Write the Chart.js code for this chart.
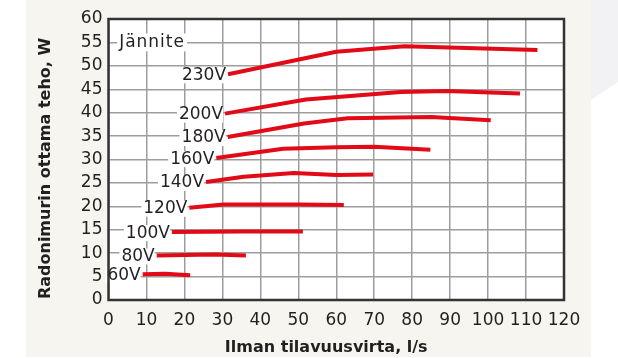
<!DOCTYPE html>
<html>
<head>
<meta charset="utf-8">
<script src="https://cdn.jsdelivr.net/npm/chart.js@4/dist/chart.umd.min.js"></script>
<style>
  html, body { margin: 0; padding: 0; background: #ffffff; }
  #wrap { position: relative; width: 618px; height: 358px; overflow: hidden; }
  #cream { position: absolute; left: 26px; top: 0; width: 565px; height: 357px; background: #f6f5ef; }
  #corner { position: absolute; left: 591px; top: 0; width: 27px; height: 100px; background: #f2f2f4;
            clip-path: polygon(0 0, 100% 0, 100% 82%, 0 100%); }
  #chart { position: absolute; left: 0; top: 0; }
</style>
</head>
<body>
<div id="wrap">
  <div id="cream"></div>
  <div id="corner"></div>
  <canvas id="chart" width="618" height="358"></canvas>
</div>
<script>
// Jännite (voltage) curves: [ilmavirta l/s, teho W]
const voltages = ["60V", "80V", "100V", "120V", "140V", "160V", "180V", "200V", "230V"];
const v60  = [[9, 5.5], [15, 5.6], [21.5, 5.3]];
const v80  = [[12.7, 9.5], [28, 9.7], [36.2, 9.5]];
const v100 = [[16.7, 14.5], [35, 14.6], [51.2, 14.6]];
const v120 = [[21.3, 19.7], [30.3, 20.4], [50, 20.4], [62, 20.3]];
const v140 = [[25.7, 25.2], [35.6, 26.3], [48.8, 27.1], [60, 26.7], [69.7, 26.8]];
const v160 = [[28.4, 30.3], [46, 32.3], [60, 32.6], [70, 32.7], [84.8, 32.1]];
const v180 = [[31.4, 34.8], [51.5, 37.7], [63, 38.8], [85, 39.1], [100.7, 38.4]];
const v200 = [[30.7, 39.8], [52, 42.8], [77, 44.4], [89, 44.6], [108.4, 44.1]];
const v230 = [[31.5, 48.2], [60, 53], [78, 54.2], [113, 53.4]];
const seriesValues = [v60, v80, v100, v120, v140, v160, v180, v200, v230];

const xTicks = [0, 10, 20, 30, 40, 50, 60, 70, 80, 90, 100, 110, 120];
const yTicks = [0, 5, 10, 15, 20, 25, 30, 35, 40, 45, 50, 55, 60];
const legendTitle = "Jännite";
const xTitle = "Ilman tilavuusvirta, l/s";
const yTitle = "Radonimurin ottama teho, W";

const red = "#e20a17";
const ink = "#231f20";
const fontFamily = "'DejaVu Sans', sans-serif";

const datasets = seriesValues.map((pts, i) => ({
    label: voltages[i],
    data: pts.map(p => ({ x: p[0], y: p[1] })),
    showLine: true,
    borderColor: red,
    backgroundColor: red,
    borderWidth: 4,
    pointRadius: 0,
    tension: 0,
    borderCapStyle: "butt",
    borderJoinStyle: "round"
}));

// voltage labels + "Jännite" with white boxes, the dark frame and axis titles
const labelPlugin = {
    id: "labels",
    afterDatasetsDraw(chart) {
        const ctx = chart.ctx;
        const xs = chart.scales.x, ys = chart.scales.y;
        const a = chart.chartArea;
        ctx.save();
        ctx.font = "17px " + fontFamily;
        ctx.textBaseline = "middle";
        chart.data.datasets.forEach(ds => {
            const p = ds.data[0];
            const px = xs.getPixelForValue(p.x) - 2;
            const py = ys.getPixelForValue(p.y) + 1;
            const w = ctx.measureText(ds.label).width;
            ctx.fillStyle = "#ffffff";
            ctx.fillRect(px - w - 2, py - 8, w + 2, 16);
            ctx.fillStyle = ink;
            ctx.textAlign = "right";
            ctx.fillText(ds.label, px, py);
        });

        ctx.letterSpacing = "1px";
        const jx = xs.getPixelForValue(2.8);
        const jy = ys.getPixelForValue(55);
        const jw = ctx.measureText(legendTitle).width;
        ctx.fillStyle = "#ffffff";
        ctx.fillRect(jx - 2, jy - 9, jw + 4, 18);
        ctx.fillStyle = ink;
        ctx.textAlign = "left";
        ctx.fillText(legendTitle, jx, jy);
        ctx.letterSpacing = "0px";

        ctx.strokeStyle = "#333333";
        ctx.lineWidth = 2.5;
        ctx.strokeRect(a.left, a.top, a.right - a.left, a.bottom - a.top);

        // axis titles
        ctx.font = "bold 16px " + fontFamily;
        ctx.fillStyle = ink;
        ctx.textAlign = "center";
        ctx.fillText(xTitle, (a.left + a.right) / 2 - 10, chart.height - 10);
        ctx.translate(a.left - 63, (a.top + a.bottom) / 2 + 9);
        ctx.rotate(-Math.PI / 2);
        ctx.fillText(yTitle, 0, 0);
        ctx.restore();
    }
};

const plotBg = {
    id: "plotBg",
    beforeDraw(chart) {
        const a = chart.chartArea;
        chart.ctx.save();
        chart.ctx.fillStyle = "#ffffff";
        chart.ctx.fillRect(a.left, a.top, a.right - a.left, a.bottom - a.top);
        chart.ctx.restore();
    }
};

new Chart(document.getElementById("chart"), {
    type: "scatter",
    data: { datasets: datasets },
    plugins: [plotBg, labelPlugin],
    options: {
        responsive: false,
        animation: false,
        layout: { padding: { top: 19, right: 54, left: 0, bottom: 0 } },
        plugins: { legend: { display: false }, tooltip: { enabled: false } },
        scales: {
            x: {
                type: "linear",
                min: xTicks[0],
                max: xTicks[xTicks.length - 1],
                afterBuildTicks(scale) { scale.ticks = xTicks.map(v => ({ value: v })); },
                afterFit(scale) { scale.height = 58; },
                grid: { color: "#9d9d9d", lineWidth: 1.5, drawTicks: false },
                border: { display: false },
                ticks: { color: ink, font: { family: fontFamily, size: 17 }, padding: 10, maxRotation: 0, autoSkip: false },
                title: { display: false }
            },
            y: {
                type: "linear",
                min: yTicks[0],
                max: yTicks[yTicks.length - 1],
                afterBuildTicks(scale) { scale.ticks = yTicks.map(v => ({ value: v })); },
                afterFit(scale) { scale.width = 108.5; },
                grid: { color: "#9d9d9d", lineWidth: 1.5, drawTicks: false },
                border: { display: false },
                ticks: { color: ink, font: { family: fontFamily, size: 17 }, padding: 6, autoSkip: false },
                title: { display: false }
            }
        }
    }
});
</script>
</body>
</html>
